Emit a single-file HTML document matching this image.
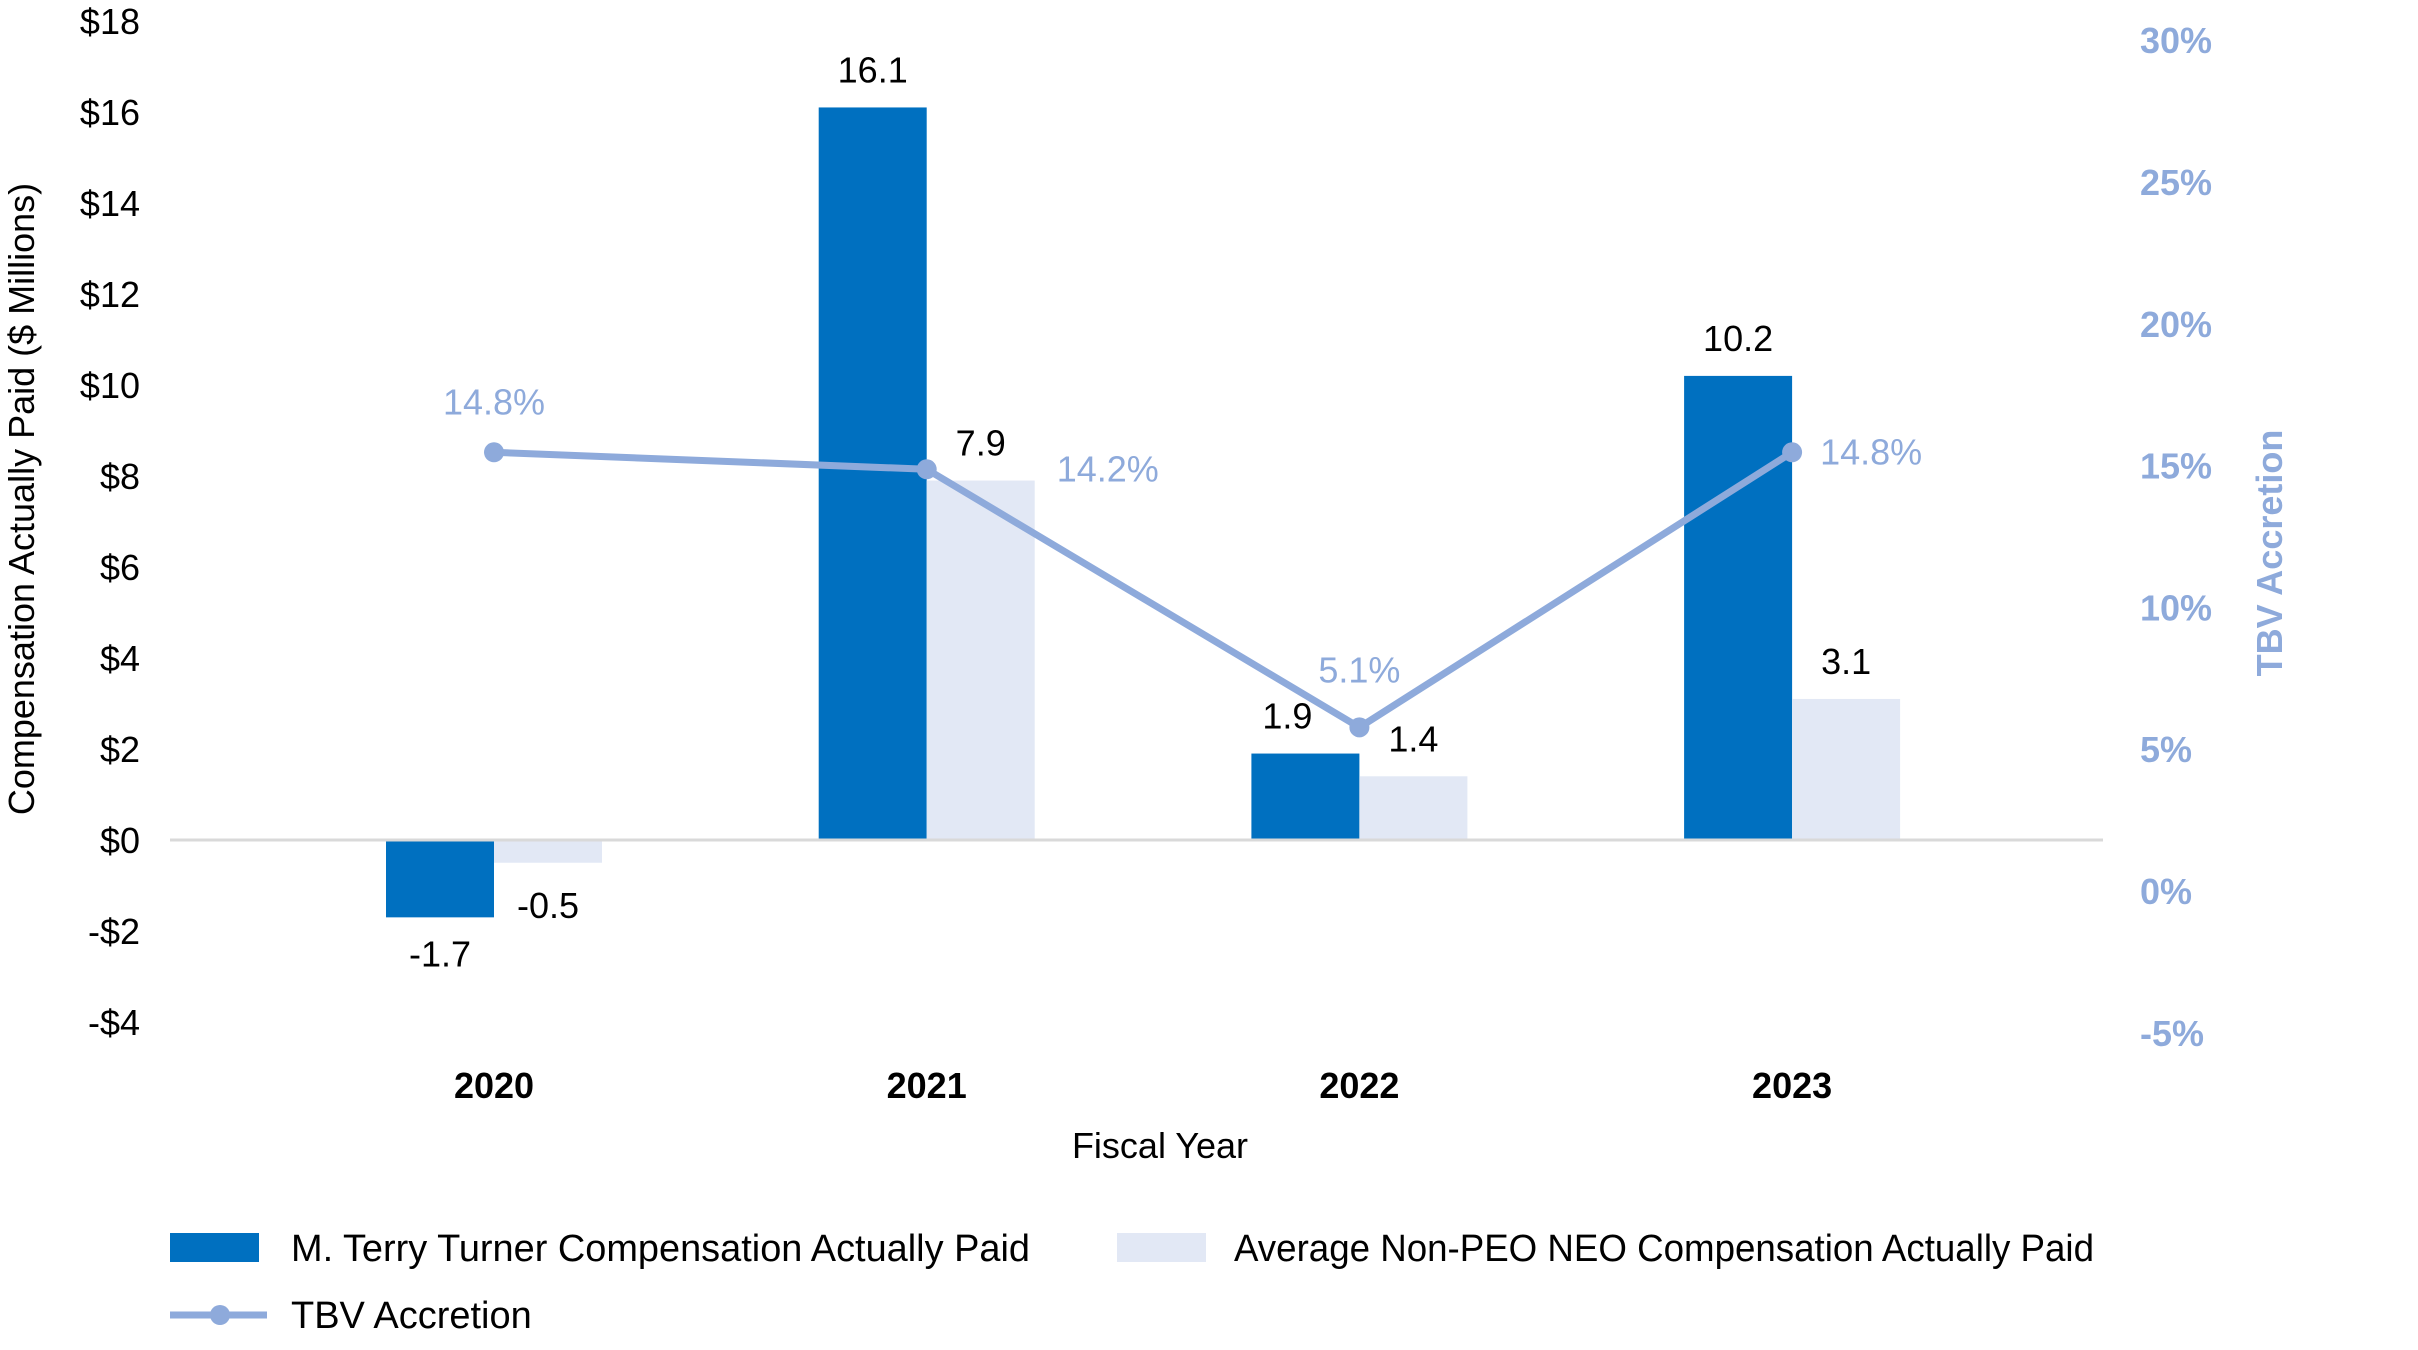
<!DOCTYPE html>
<html><head><meta charset="utf-8"><style>
html,body{margin:0;padding:0;background:#fff;}
svg{display:block;font-family:"Liberation Sans",sans-serif;}
</style></head><body>
<svg id="chart" width="2418" height="1350" viewBox="0 0 2418 1350"></svg>
<script>
const categories = ["2020","2021","2022","2023"];
const peoValues = [-1.7, 16.1, 1.9, 10.2];
const neoValues = [-0.5, 7.9, 1.4, 3.1];
const tbvValues = [14.8, 14.2, 5.1, 14.8];
const leftTicks = [18,16,14,12,10,8,6,4,2,0,-2,-4];
const rightTicks = [30,25,20,15,10,5,0,-5];

const svg = document.getElementById('chart');
const NS = 'http://www.w3.org/2000/svg';
function mk(tag, attrs, parent){ const e=document.createElementNS(NS,tag); for(const k in attrs) e.setAttribute(k,attrs[k]); (parent||svg).appendChild(e); return e; }
const catX = i => 494 + i*432.7;
const yBar = v => 840 - v*45.5;
const yTickL = v => 840 - v*45.5;
const yPct = v => 872 - v*28.36;
const BW = 108;
const BLUE = '#0070c0', LIGHT = '#e2e8f5', LINE = '#8eaadb';

leftTicks.forEach(v=>{
  const t = mk('text',{x:140,y:yTickL(v)+13,'text-anchor':'end','font-size':36,fill:'#000'});
  t.textContent = (v<0?'-$':'$')+Math.abs(v);
  
  
});
rightTicks.forEach(v=>{
  const t = mk('text',{x:2140,y:yPct(v)+19+13,'text-anchor':'start','font-size':36,'font-weight':'bold',fill:LINE});
  t.textContent = v+'%';
  
  
});
let t = mk('text',{x:0,y:0,transform:'translate(34,499) rotate(-90)','text-anchor':'middle','font-size':36,fill:'#000'});
t.textContent='Compensation Actually Paid ($ Millions)';
 
t = mk('text',{x:0,y:0,transform:'translate(2282,553) rotate(-90)','text-anchor':'middle','font-size':36,'font-weight':'bold',fill:LINE});
t.textContent='TBV Accretion';
 

categories.forEach((c,i)=>{
  const cx = catX(i);
  const v1 = peoValues[i], v2 = neoValues[i];
  let r = mk('rect',{x:cx-BW,y:Math.min(yBar(v1),yBar(0)),width:BW,height:Math.abs(yBar(v1)-yBar(0)),fill:BLUE});
   
  r = mk('rect',{x:cx,y:Math.min(yBar(v2),yBar(0)),width:BW,height:Math.abs(yBar(v2)-yBar(0)),fill:LIGHT});
   
  let l = mk('text',{x:cx-BW/2-(i==2?18:0),y:(v1>=0?yBar(v1)-25:yBar(v1)+49),'text-anchor':'middle','font-size':36,fill:'#000'});
  l.textContent = v1.toFixed(1);
   
  l = mk('text',{x:cx+BW/2,y:(v2>=0?yBar(v2)-25:yBar(v2)+55),'text-anchor':'middle','font-size':36,fill:'#000'});
  l.textContent = v2.toFixed(1);
   
  l = mk('text',{x:cx,y:1098,'text-anchor':'middle','font-size':36,'font-weight':'bold',fill:'#000'});
  l.textContent = c;
   
});
let ax = mk('line',{x1:170,x2:2103,y1:840,y2:840,stroke:'#d9d9d9','stroke-width':3});
 

const pts = tbvValues.map((v,i)=>catX(i)+','+yPct(v)).join(' ');
let pl = mk('polyline',{points:pts,fill:'none',stroke:LINE,'stroke-width':7,'stroke-linejoin':'round'});
 
tbvValues.forEach((v,i)=>{
  const c = mk('circle',{cx:catX(i),cy:yPct(v),r:10,fill:LINE});
   
  const anchor = (i==1||i==3)?'start':'middle';
  const dx = i==1?130:(i==3?28:0);
  const dy = (i==1||i==3)?12:(i==2?-45:-38);
  const l = mk('text',{x:catX(i)+dx,y:yPct(v)+dy,'text-anchor':anchor,'font-size':36,fill:LINE});
  l.textContent = v.toFixed(1)+'%';
   
});

t = mk('text',{x:1160,y:1158,'text-anchor':'middle','font-size':36,fill:'#000'});
t.textContent='Fiscal Year';
 

let g = mk('g',{});
 
mk('rect',{x:170,y:1233,width:89,height:29,fill:BLUE},g);
let lt = mk('text',{x:291,y:1261,'font-size':38,fill:'#000',textLength:739,lengthAdjust:'spacingAndGlyphs'},g); lt.textContent='M. Terry Turner Compensation Actually Paid';
g = mk('g',{});
 
mk('rect',{x:1117,y:1233,width:89,height:29,fill:LIGHT},g);
lt = mk('text',{x:1234,y:1261,'font-size':38,fill:'#000',textLength:860,lengthAdjust:'spacingAndGlyphs'},g); lt.textContent='Average Non-PEO NEO Compensation Actually Paid';
g = mk('g',{});
 
mk('line',{x1:170,x2:267,y1:1315,y2:1315,stroke:LINE,'stroke-width':7},g);
mk('circle',{cx:220,cy:1315,r:10,fill:LINE},g);
lt = mk('text',{x:291,y:1328,'font-size':38,fill:'#000'},g); lt.textContent='TBV Accretion';
</script>
</body></html>
